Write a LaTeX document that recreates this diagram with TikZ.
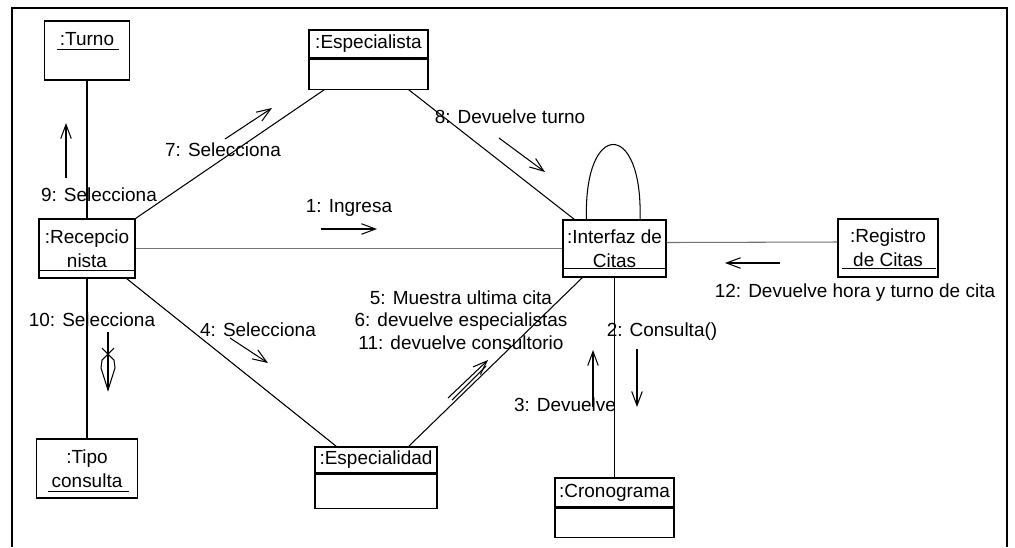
\documentclass[tikz,border=0pt]{standalone}
\usepackage{fontspec}
\setmainfont{Liberation Sans}
\usetikzlibrary{arrows.meta}

\tikzset{
	objbox/.style 2 args = {draw, line width=0.6pt, inner sep=0pt, minimum width=#1, minimum height=#2, align=center},
	link/.style = {line width=0.6pt},
	msg/.style = {line width=0.6pt, -{Straight Barb[length=8pt, width=6pt]}},
	lbl/.style = {inner sep=0pt},
}

\begin{document}
\begin{tikzpicture}[x=0.2mm, y=-0.2mm, font=\fontsize{10.8}{13.7}\selectfont]
			\useasboundingbox (0,0) rectangle (1015,547);
			\draw[line width=1pt] (12,547) -- (12,8) -- (1007,8) -- (1007,547);

			\node[objbox={17mm}{11.8mm}] (turno) at (87,50.5) {};
			\node[lbl] (turnoname) at ([yshift=-3.8mm]turno.north) {:Turno};
			\node[objbox={23.8mm}{5.6mm}] (espta) at (368.5,44) {:Especialista};
			\node[objbox={23.8mm}{6mm}, anchor=north] (esptab) at (espta.south) {};
			\node[objbox={19.2mm}{11.8mm}] (recep) at (87,248.5) {:Recepcio\\nista};
			\node[objbox={20.6mm}{11.4mm}] (intf) at (614.5,248.5) {:Interfaz de\\Citas};
			\node[objbox={20mm}{11.6mm}] (regis) at (888,248) {:Registro\\de Citas};
			\node[objbox={20.2mm}{11.8mm}] (tipo) at (87,468.5) {:Tipo\\consulta};
			\node[objbox={24.4mm}{5.2mm}] (espd) at (376,460) {:Especialidad};
			\node[objbox={24.4mm}{6.8mm}, anchor=north] (espdb) at (espd.south) {};
			\node[objbox={23.8mm}{5.8mm}] (crono) at (614.5,492.5) {:Cronograma};
			\node[objbox={23.8mm}{5.8mm}, anchor=north] (cronob) at (crono.south) {};

			% underlined object names
			\draw[line width=0.5pt] ([xshift=2.6mm,yshift=-5.8mm]turno.north west) -- ([xshift=-2.2mm,yshift=-5.8mm]turno.north east);
			\draw[line width=0.5pt] ([xshift=0.2mm,yshift=1.6mm]recep.south west) -- ([xshift=-0.4mm,yshift=1.6mm]recep.south east);
			\draw[line width=0.5pt] ([xshift=0.4mm,yshift=1.8mm]intf.south west) -- ([xshift=-0.2mm,yshift=1.8mm]intf.south east);
			\draw[line width=0.5pt] ([xshift=1mm,yshift=1.8mm]regis.south west) -- ([xshift=-0.6mm,yshift=1.8mm]regis.south east);
			\draw[line width=0.5pt] ([xshift=2.4mm,yshift=1.4mm]tipo.south west) -- ([xshift=-1.8mm,yshift=1.4mm]tipo.south east);

			\draw[link] (turno.south) -- (recep.north);
			\draw[link] (recep.south) -- (tipo.north);
			\draw[link] (recep.north east) -- ([xshift=3.2mm]esptab.south west);
			\draw[link] ([xshift=-4mm]esptab.south east) -- ([xshift=2.4mm]intf.north west);
			\draw[link, black!55] (recep.east) -- (intf.west);
			\draw[link, black!55] ([yshift=1.2mm]intf.east) -- ([yshift=1.2mm]regis.west);
			\draw[link] ([xshift=-1.8mm]recep.south east) -- ([xshift=4.4mm]espd.north west);
			\draw[link] ([xshift=-5.8mm]espd.north east) -- ([xshift=4mm]intf.south west);
			\draw[link] (intf.south) -- (crono.north);
			\draw[link] ([xshift=4.8mm]intf.north west) .. controls +(-3,-100) and +(3,-100) .. ([xshift=-5.3mm]intf.north east);

			\foreach \xa/\ya/\xb/\yb in {66/178/66/123, 225/139/272/108, 499/138/545/172, 321/229/377/229, 780/263/725/263, 230/338/268/363, 448/398/488/360, 637/349/637/407, 593/407/593/350}
				{\draw[msg] (\xa,\ya) -- (\xb,\yb);}
			\draw[link] (452,400) -- (486,366);
			\draw[link] (108,332) -- (108,390);
			\draw[link] (102,348) -- (114,360) (114,348) -- (102,360);
			\draw[link] (102,360) -- (101,368) -- (108,390) -- (115,368) -- (114,360);

			\node[lbl] (l9) at (99,195) {9: Selecciona};
			\node[lbl] (l7) at (223,150) {7: Selecciona};
			\node[lbl] (l8) at (510,117) {8: Devuelve turno};
			\node[lbl] (l1) at (349,208) {1: Ingresa};
			\node[lbl] (l12) at (855,293) {12: Devuelve hora y turno de cita};
			\node[lbl] (l10) at (92,320) {10: Selecciona};
			\node[lbl] (l4) at (258,330) {4: Selecciona};
			\node[lbl, align=center, font=\fontsize{10.8}{12.8}\selectfont] (l5) at (461,320) {5: Muestra ultima cita\\6: devuelve especialistas\\11: devuelve consultorio};
			\node[lbl] (l2) at (662,332) {2: Consulta()};
			\node[lbl] (l3) at (565,405) {3: Devuelve};
\end{tikzpicture}
\end{document}
